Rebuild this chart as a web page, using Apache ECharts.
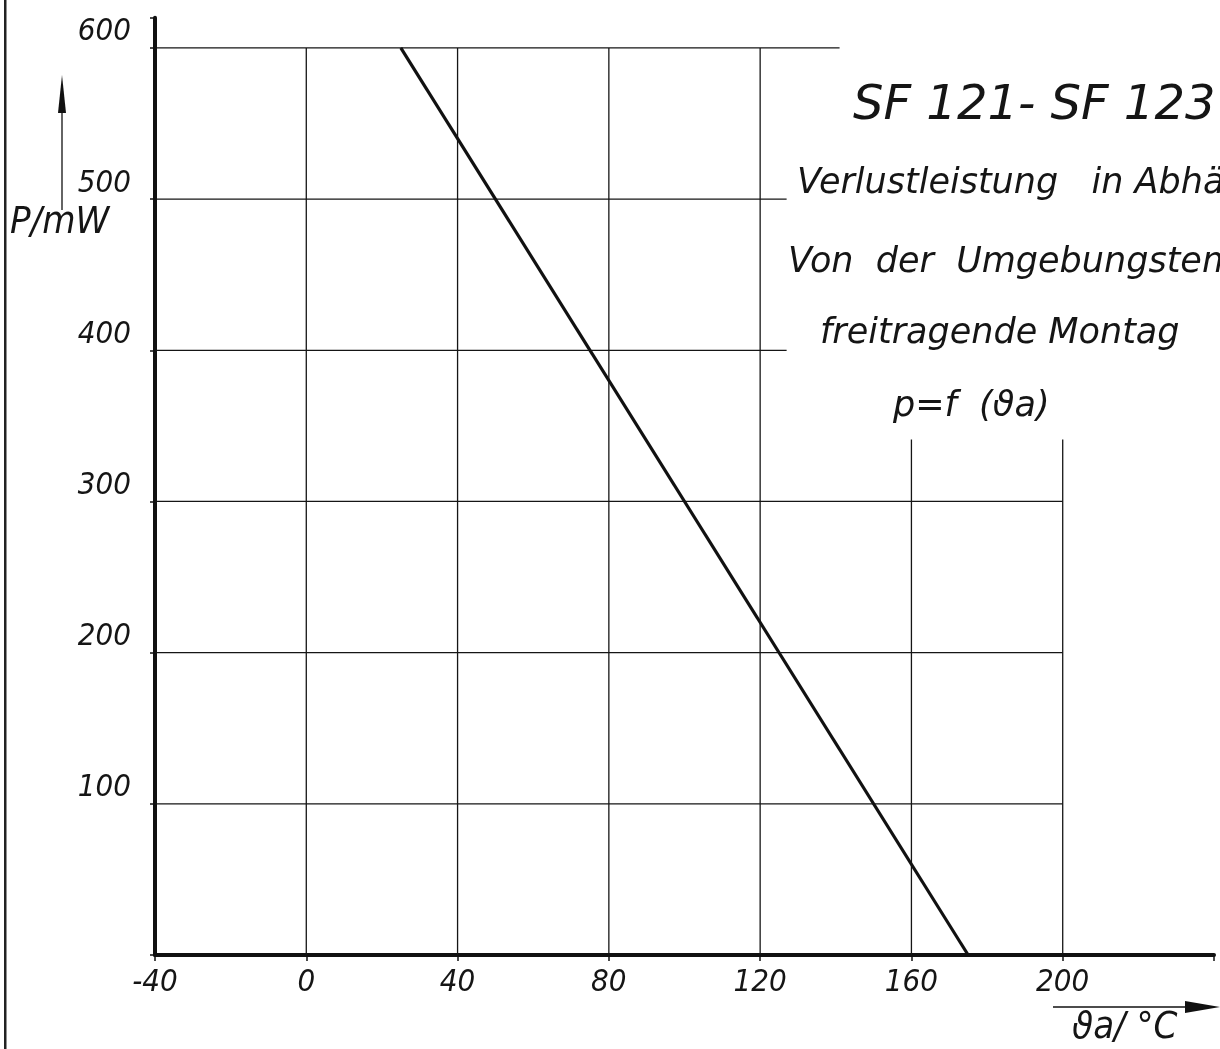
<!DOCTYPE html>
<html>
<head>
<meta charset="utf-8">
<script src="https://cdn.jsdelivr.net/npm/echarts@6/dist/echarts.min.js"></script>
<style>html,body{margin:0;padding:0;background:#fff}#c{width:1220px;height:1049px}</style>
</head>
<body>
<div id="c"></div>
<script>
// --- data ---
const xTicks = [-40, 0, 40, 80, 120, 160, 200];
const yTicks = [100, 200, 300, 400, 500, 600];
// derating curve P(ϑa): points
const curveTemp = [25, 175];
const curvePower = [600, 0];
// grid line extents (data units) as drawn on the sheet
const hLineLevels = [600, 500, 400, 300, 200, 100];
const hLineEnds = [141, 127, 127, 200, 200, 200];
const vLinePositions = [0, 40, 80, 120, 160, 200];
const vLineTops = [600, 600, 600, 600, 341, 341];
const titleText = 'SF 121- SF 123';
const subLines = ['Verlustleistung   in Abhängigkeit', 'Von  der  Umgebungstemperatur', 'freitragende Montag', 'p=f  (ϑa)'];

const FONT_C = '"DejaVu Sans Condensed", "DejaVu Sans"';
const FONT_R = '"DejaVu Sans"';
const ink = '#151515';
const series = [];
hLineLevels.forEach((lv, i) => {
  series.push({type:'line', silent:true, symbol:'none', animation:false,
    lineStyle:{color:ink, width:1.3}, data:[[-40, lv],[hLineEnds[i], lv]]});
});
vLinePositions.forEach((x, i) => {
  series.push({type:'line', silent:true, symbol:'none', animation:false,
    lineStyle:{color:ink, width:1.3}, data:[[x, 0],[x, vLineTops[i]]]});
});
series.push({type:'line', silent:true, symbol:'none', animation:false,
  lineStyle:{color:'#111', width:3.2},
  data: curveTemp.map((t, i) => [t, curvePower[i]])});

function txt(s, x, y, size, fam) {
  return {type:'text', x:x, y:y, style:{text:s, fontFamily:fam || FONT_R, fontStyle:'italic', fontSize:size,
    fill:ink}};
}

const chart = echarts.init(document.getElementById('c'));
chart.setOption({
  backgroundColor:'#fff',
  animation:false,
  grid:{left:155, right:6, top:17.7, bottom:94},
  xAxis:{type:'value', min:-40, max:240, interval:40,
    splitLine:{show:false},
    axisLine:{onZero:false, lineStyle:{color:'#111', width:4}},
    axisTick:{show:true, length:6, lineStyle:{color:'#111', width:1.5}},
    axisLabel:{margin:12, color:ink, fontFamily:FONT_C, fontStyle:'italic', fontSize:31,
      formatter: v => xTicks.includes(v) ? String(v) : ''}
  },
  yAxis:{type:'value', min:0, max:620, interval:100,
    splitLine:{show:false},
    axisLine:{show:true, onZero:false, lineStyle:{color:'#111', width:4}},
    axisTick:{show:true, length:5, lineStyle:{color:'#111', width:1.5}},
    axisLabel:{margin:24, color:ink, fontFamily:FONT_C, fontStyle:'italic', fontSize:31,
      verticalAlign:'bottom',
      formatter: v => yTicks.includes(v) ? String(v) : ''}
  },
  series: series,
  graphic:[
    {type:'rect', shape:{x:4, y:0, width:2.5, height:1049}, style:{fill:'#222'}},
    // y arrow
    {type:'line', shape:{x1:62, y1:105, x2:62, y2:210}, style:{stroke:'#111', lineWidth:1.3}},
    {type:'polygon', shape:{points:[[58,113],[62,75],[66,113]]}, style:{fill:'#111'}},
    txt('P/mW', 10, 204, 38, FONT_C),
    // x arrow
    {type:'line', shape:{x1:1053, y1:1007, x2:1190, y2:1007}, style:{stroke:'#111', lineWidth:1.3}},
    {type:'polygon', shape:{points:[[1185,1001],[1220,1007],[1185,1013]]}, style:{fill:'#111'}},
    txt('ϑa/ °C', 1072, 1009, 38, FONT_C),
    // title block
    txt(titleText, 853, 83, 48),
    txt(subLines[0], 797, 166, 35),
    txt(subLines[1], 788, 245, 35),
    txt(subLines[2], 820, 316, 35),
    txt(subLines[3], 893, 389, 35)
  ]
});
</script>
</body>
</html>
